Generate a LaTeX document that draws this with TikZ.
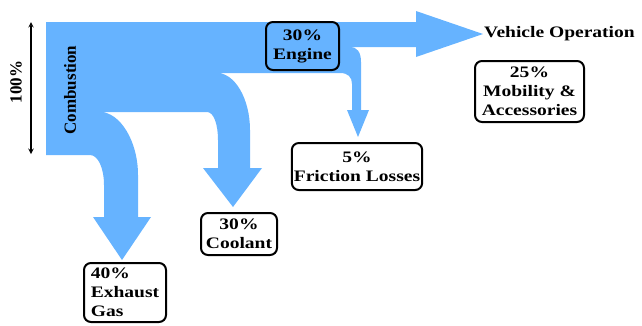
\documentclass[tikz,border=0pt]{standalone}
\usepackage{fontspec}
\setmainfont{Liberation Serif}[FakeStretch=1.22]
\newfontfamily\upfont{Liberation Serif}
\definecolor{flowblue}{RGB}{102,179,255}
\begin{document}
\begin{tikzpicture}[>=stealth,x=1pt,y=-1pt,
		box/.style={draw,line width=2pt,rounded corners=7pt,fill=white,align=center,inner sep=2pt,font=\fontsize{16}{19}\selectfont\bfseries},
		sidelabel/.style={rotate=90,inner sep=0pt,font=\upfont\bfseries\fontsize{17}{20}\selectfont}]
		\useasboundingbox (0,0) rectangle (642,325);
		\fill[flowblue] (46,22) -- (416,22) -- (416,11) -- (483,34) -- (416,57) -- (416,47) -- (350,47)
			.. controls (357,47) and (361,52) .. (361,62) -- (361,110) -- (369,110) -- (358,137) -- (347,110) -- (352,110) -- (352,84)
			.. controls (352,77) and (348,73) .. (340,73) -- (217,73)
			.. controls (235,73) and (250,99) .. (250,130) -- (250,168) -- (262,168) -- (233,207) -- (203,168) -- (218,168) -- (218,140)
			.. controls (218,125) and (214,112) .. (207,112) -- (100,112)
			.. controls (120,112) and (138,141) .. (138,175) -- (138,217) -- (151,217) -- (122,260) -- (93,217) -- (104,217) -- (104,185)
			.. controls (104,168) and (98,155) .. (90,155) -- (46,155) -- cycle;
		\node[box,fill=flowblue,minimum width=73pt,minimum height=48pt] (engine) at (302.5,46) {30\%\\Engine};
		\node[anchor=west,inner sep=0pt,font=\fontsize{16}{19}\selectfont\bfseries] (vehicle) at (484,34) {Vehicle Operation};
		\node[box,minimum width=109pt,minimum height=61pt] (mobility) at (529.5,91.5) {25\%\\Mobility \&\\Accessories};
		\node[box,minimum width=130pt,minimum height=47pt] (friction) at (357,166.5) {5\%\\Friction Losses};
		\node[box,minimum width=76pt,minimum height=42pt] (coolant) at (239,234) {30\%\\Coolant};
		\node[box,align=left,minimum width=82pt,minimum height=59pt] (exhaust) at (125,292.5) {40\%\\Exhaust\\Gas};
		\node[sidelabel] (comb) at (70,90) {Combustion};
		\coordinate (ptop) at (31,22);
		\coordinate (pbot) at (31,154);
		\draw[<->,line width=1.4pt] (ptop) -- (pbot);
		\node[sidelabel] (pct) at (16,82) {100\%};
\end{tikzpicture}
\end{document}
